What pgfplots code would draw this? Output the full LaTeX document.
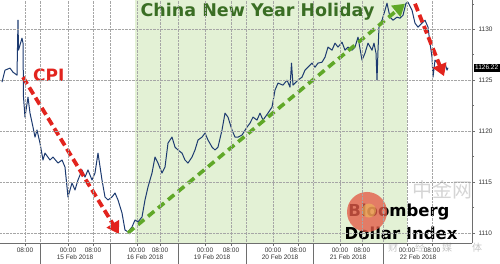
\documentclass[border=0pt]{standalone}
\usepackage{pgfplots}
\pgfplotsset{compat=1.18}
\usetikzlibrary{arrows.meta}
\usepackage{fontspec}
\setmainfont{Liberation Sans}
\newfontfamily\boldfont{DejaVu Sans}
\newfontfamily\cjk{Noto Sans CJK SC}
\definecolor{navy}{RGB}{28,58,112}
\definecolor{cpired}{RGB}{226,36,30}
\definecolor{arrowgreen}{RGB}{96,168,40}
\definecolor{txtgreen}{RGB}{58,110,36}
\definecolor{holiday}{RGB}{227,241,213}
\definecolor{axisgray}{RGB}{110,110,110}
\definecolor{wmred}{RGB}{228,92,72}
\definecolor{wmyellow}{RGB}{240,200,90}
\pgfplotstableread{
x y
2 1124.80
5 1125.98
10 1126.18
13 1125.78
17 1125.49
18 1130.88
18.5 1127.94
22 1129.12
23 1128.63
23.5 1123.33
25 1121.37
28 1123.33
30 1121.76
33 1120.39
35 1119.41
37 1120.10
40 1118.82
43 1117.16
45 1117.84
50 1117.16
53 1117.45
58 1116.86
62 1117.16
65 1116.47
68 1113.53
72 1114.90
75 1114.22
78 1115.20
82 1116.18
85 1115.49
88 1116.18
92 1115.20
95 1115.88
98 1117.84
102 1115.20
105 1113.53
108 1113.24
112 1113.53
115 1113.92
118 1113.24
122 1111.96
125 1110.29
128 1110.10
132 1110.59
135 1111.27
138 1111.08
142 1111.57
145 1113.24
148 1114.51
152 1115.88
155 1117.45
158 1116.86
162 1115.88
165 1116.47
168 1118.82
172 1119.41
175 1118.43
178 1118.14
182 1117.84
185 1117.16
188 1116.86
192 1117.45
195 1118.14
198 1119.12
202 1119.41
205 1119.80
208 1119.12
212 1118.43
215 1118.14
218 1118.43
222 1120.10
225 1121.76
228 1121.37
232 1120.10
235 1119.41
238 1119.41
242 1119.61
247 1120.39
250 1120.78
253 1121.37
257 1121.08
260 1121.76
263 1121.08
268 1121.76
272 1122.35
275 1124.02
278 1124.71
283 1124.51
287 1125.00
290 1124.31
291.5 1126.67
293 1124.51
298 1125.00
302 1125.29
305 1125.98
308 1126.27
312 1126.67
315 1126.27
318 1126.67
322 1126.76
325 1127.25
328 1128.24
332 1127.94
335 1128.63
338 1128.24
342 1128.73
345 1127.94
348 1128.24
352 1127.94
355 1128.24
358 1129.22
362 1126.96
365 1127.65
368 1128.63
372 1127.94
374 1128.63
376 1127.65
377 1125.00
378 1127.94
379 1130.20
382 1130.88
385 1131.86
387 1132.55
390 1131.18
393 1130.88
397 1131.18
400 1131.08
403 1131.37
406 1132.55
408 1132.65
412 1131.86
415 1130.59
418 1130.20
422 1130.59
425 1130.88
428 1130.20
430 1128.63
432 1127.25
433 1125.29
435 1126.96
438 1126.67
442 1125.98
445 1126.67
447 1125.98
448 1126.22
}\dxy
\begin{document}
\begin{tikzpicture}
\begin{axis}[
  at={(0,20pt)}, anchor=south west,
  scale only axis, width=472pt, height=243pt,
  xmin=0, xmax=472, ymin=1109, ymax=1132.85,
  axis x line*=bottom, axis y line*=right,
  axis on top, clip=false,
  axis line style={axisgray, line width=0.5pt},
  tick style={axisgray, line width=0.4pt},
  tick align=outside, major tick length=3pt, minor tick length=2pt,
  xtick={25,68,93,137,160,205,231,273,298,340,362,407,432},
  xticklabels={08:00,00:00,08:00,00:00,08:00,00:00,08:00,00:00,08:00,00:00,08:00,00:00,08:00},
  minor xtick={40,110,178,246,313,383},
  extra x ticks={75,145,212,280,348,418},
  extra x tick labels={15 Feb 2018,16 Feb 2018,19 Feb 2018,20 Feb 2018,21 Feb 2018,22 Feb 2018},
  extra x tick style={xmajorgrids=false, tick style={draw=none}, tick label style={yshift=-7pt}},
  x tick label style={font=\fontsize{6.5}{7}\selectfont, text=black!80, yshift=1.5pt},
  ytick={1110,1115,1120,1125,1130},
  minor ytick={1112.5,1117.5,1122.5,1127.5,1132.5},
  y tick label style={font=\fontsize{6.5}{7}\selectfont, text=black!80, /pgf/number format/1000 sep={}},
  /pgf/number format/assume math mode=true,
  xmajorgrids, xminorgrids, ymajorgrids,
  major grid style={densely dotted, gray!70, line width=0.4pt},
  minor grid style={densely dotted, gray!70, line width=0.4pt},
]
\fill[holiday] (axis cs:135,1109) rectangle (axis cs:407,1132.85);
\addplot[navy, line width=1pt, line join=round] table {\dxy};
% day separators below axis
\draw[axisgray, line width=0.5pt] (axis cs:40,1109) -- ++(0,-20pt);
\draw[axisgray, line width=0.5pt] (axis cs:110,1109) -- ++(0,-20pt);
\draw[axisgray, line width=0.5pt] (axis cs:178,1109) -- ++(0,-20pt);
\draw[axisgray, line width=0.5pt] (axis cs:246,1109) -- ++(0,-20pt);
\draw[axisgray, line width=0.5pt] (axis cs:313,1109) -- ++(0,-20pt);
\draw[axisgray, line width=0.5pt] (axis cs:383,1109) -- ++(0,-20pt);
% arrows
\draw[cpired, line width=3.8pt, dash pattern=on 8pt off 4pt, -{Triangle[length=12pt,width=14pt]}] (axis cs:23,1125.29) -- (axis cs:119,1109.9);
\draw[arrowgreen, line width=3.6pt, dash pattern=on 8pt off 5pt, -{Triangle[length=12pt,width=14pt]}] (axis cs:128,1110.0) -- (axis cs:405,1132.5);
\draw[cpired, line width=3.8pt, dash pattern=on 8pt off 4pt, -{Triangle[length=12pt,width=14pt]}] (axis cs:415,1132.5) -- (axis cs:444,1125.39);
% texts
\node[text=cpired, font=\boldfont\bfseries\fontsize{17}{17}\selectfont, anchor=west, inner sep=0pt] at (axis cs:33,1125.5) {CPI};
\node[text=txtgreen, font=\boldfont\bfseries\fontsize{17.5}{17.5}\selectfont, inner sep=0pt] at (axis cs:257.5,1131.67) {China New Year Holiday};
% watermark (chinese text behind)
\node[text=gray!55, opacity=0.6, font=\cjk\fontsize{20}{20}\selectfont, inner sep=0pt] at (axis cs:442,1114.22) {中金网};
\node[text=black, font=\boldfont\bfseries\fontsize{16.5}{16.5}\selectfont, inner sep=0pt] at (axis cs:399,1112.06) {Bloomberg};
\node[text=black, font=\boldfont\bfseries\fontsize{16.5}{16.5}\selectfont, inner sep=0pt] at (axis cs:401,1110.0) {Dollar Index};
\fill[wmred, opacity=0.78] (axis cs:367,1112.06) circle (20pt);
\fill[wmyellow, opacity=0.5] (axis cs:369,1112.2) circle (7pt);
\node[text=gray!45, font=\cjk\fontsize{10}{10}\selectfont, inner sep=0pt] at (axis cs:393,1108.6) {财};
\node[text=gray!45, font=\cjk\fontsize{10}{10}\selectfont, inner sep=0pt] at (axis cs:420,1108.6) {经};
\node[text=gray!45, font=\cjk\fontsize{10}{10}\selectfont, inner sep=0pt] at (axis cs:447,1108.6) {媒};
\node[text=gray!45, font=\cjk\fontsize{10}{10}\selectfont, inner sep=0pt] at (axis cs:477,1108.6) {体};
% last value label
\node[fill=black, text=white, font=\fontsize{6.5}{7}\selectfont, anchor=west, inner sep=1.5pt] at (axis cs:473.5,1126.22) {1126.22};
\end{axis}
\pgfresetboundingbox
\path[use as bounding box] (0,0) rectangle (500pt,263pt);
\end{tikzpicture}
\end{document}
